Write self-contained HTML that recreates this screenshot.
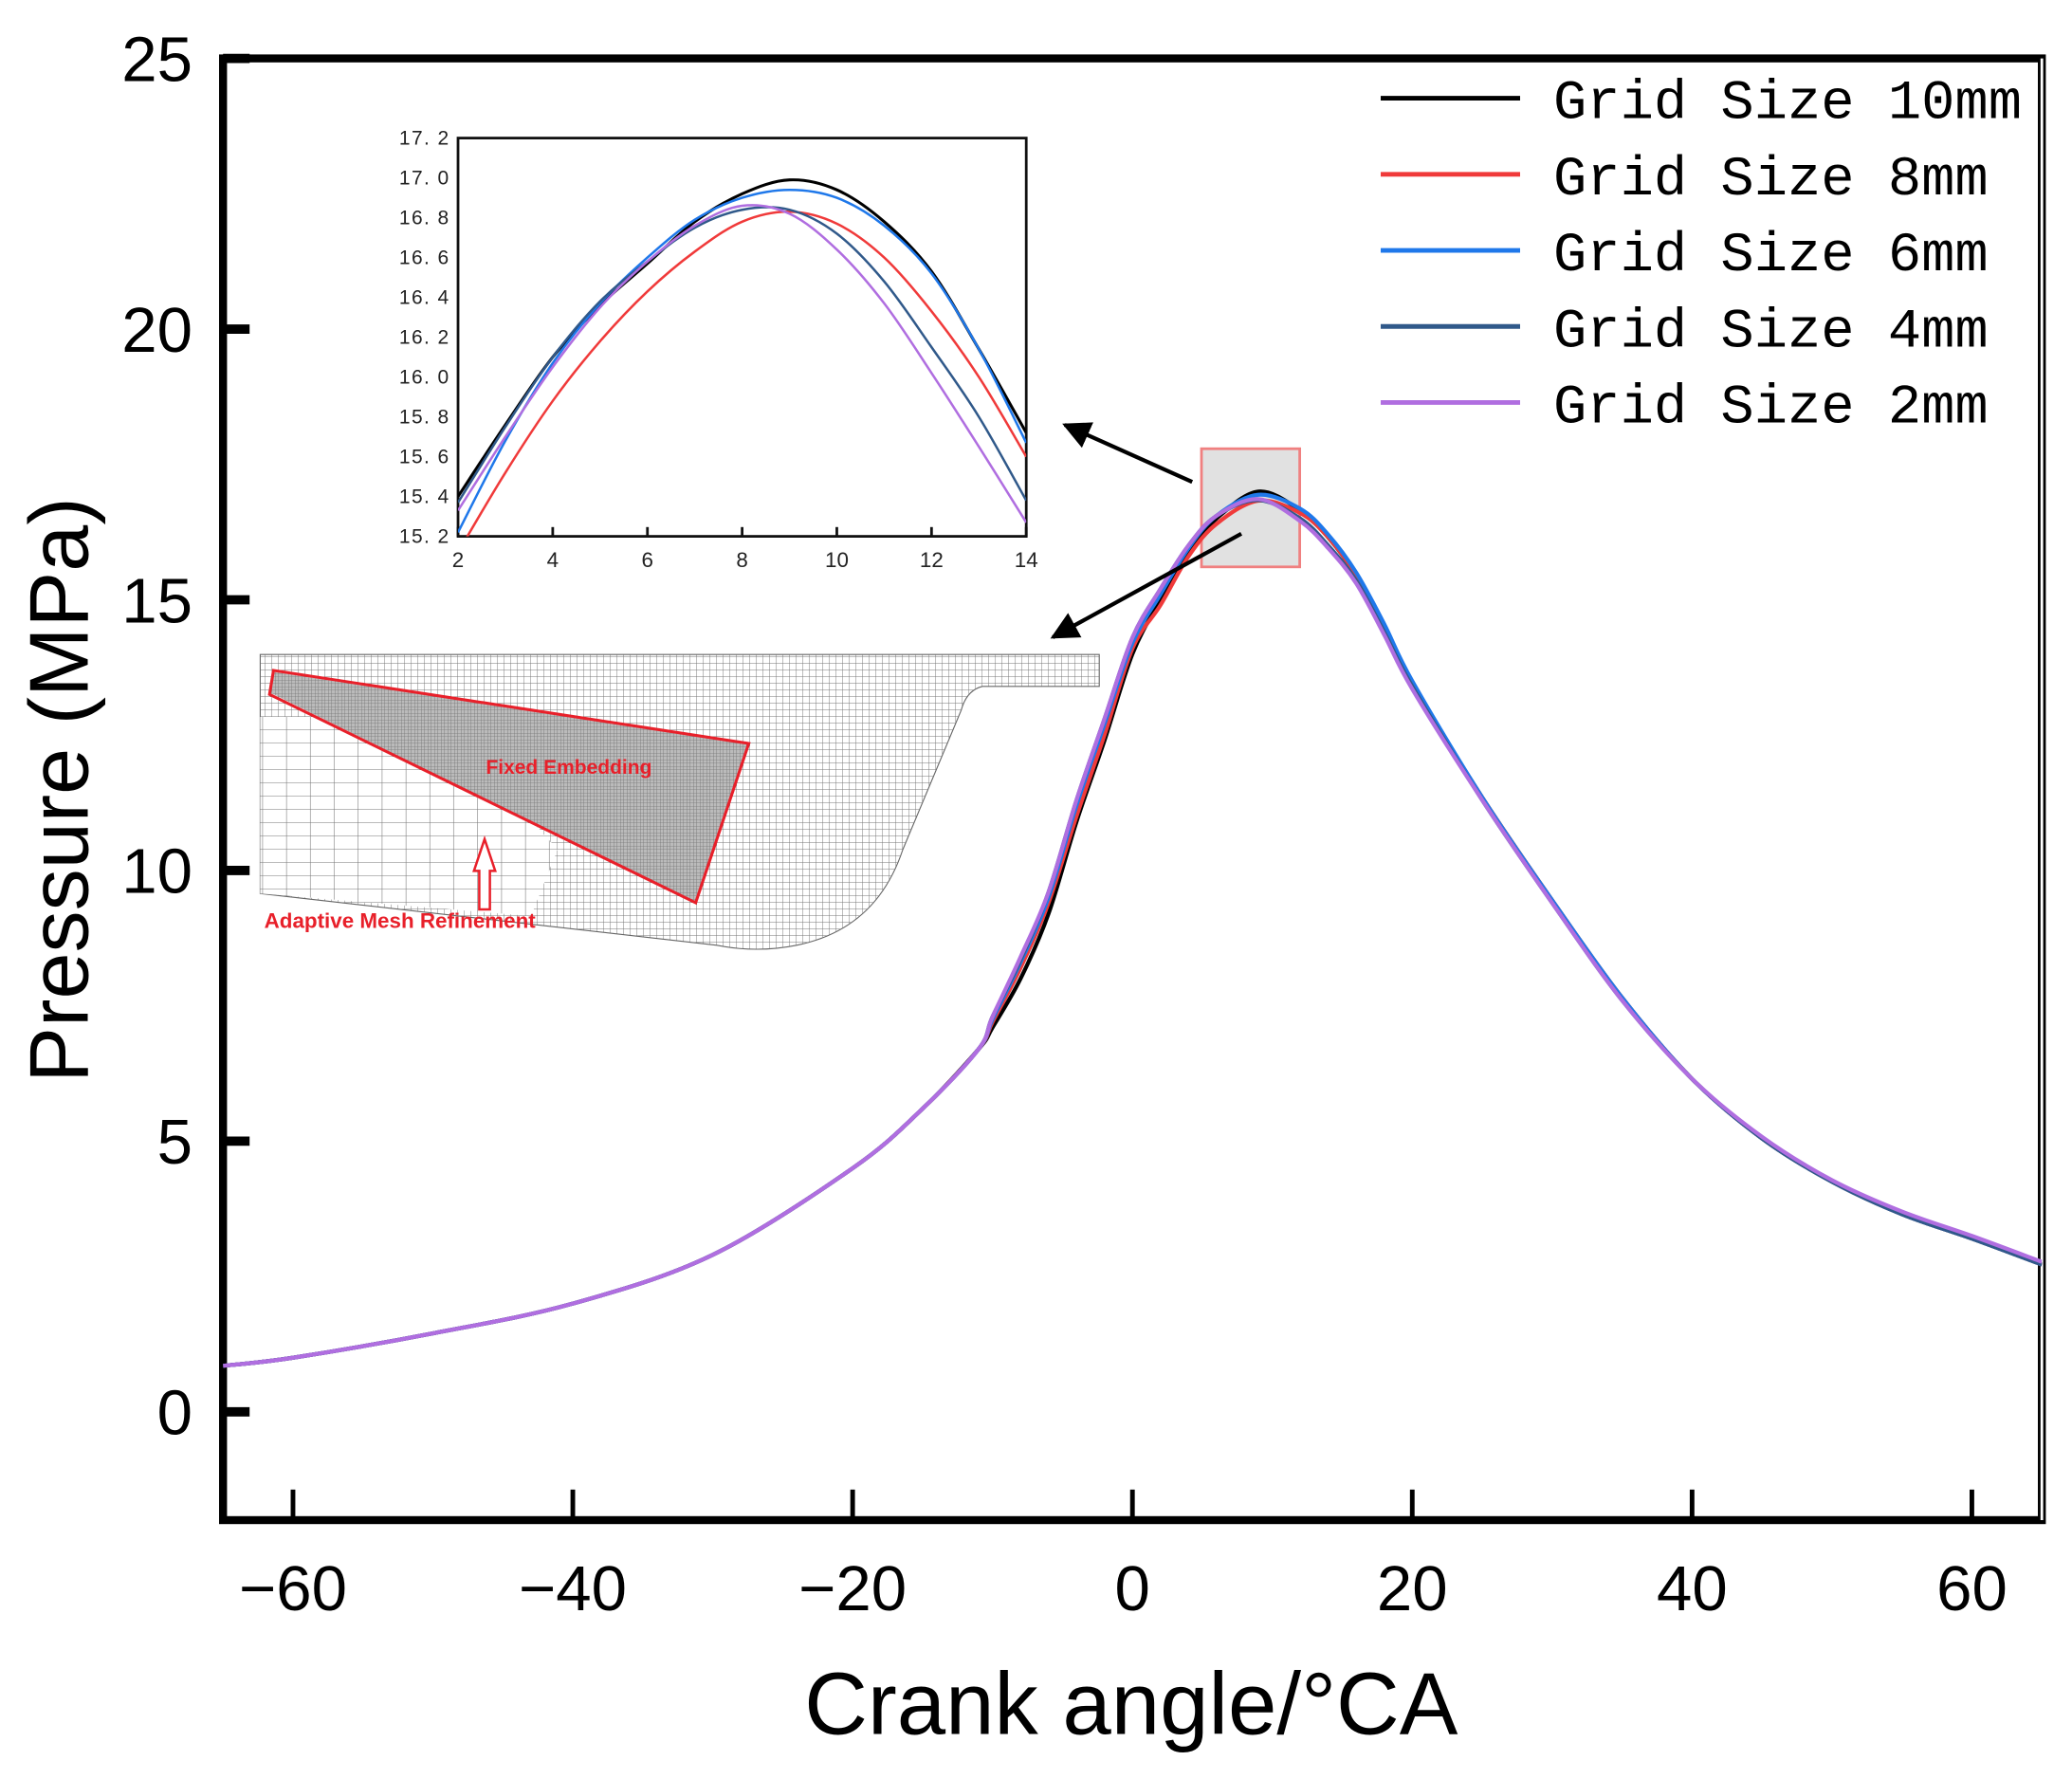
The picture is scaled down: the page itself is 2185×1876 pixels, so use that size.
<!DOCTYPE html>
<html><head><meta charset="utf-8">
<style>
html,body{margin:0;padding:0;background:#fff;}
svg{display:block;}
text{font-family:"Liberation Sans Narrow","Liberation Sans",sans-serif;}
</style></head>
<body>
<svg id="chart" xmlns="http://www.w3.org/2000/svg" width="2185" height="1876" viewBox="0 0 1560.7 1340">
<defs>
  <pattern id="gridFine" width="5" height="5" patternUnits="userSpaceOnUse">
    <rect width="5" height="5" fill="#fff"/>
    <path d="M5 0V5M0 5H5" stroke="#777" stroke-width="0.7" fill="none"/>
  </pattern>
  <pattern id="gridDense" width="2.5" height="2.5" patternUnits="userSpaceOnUse">
    <rect width="2.5" height="2.5" fill="#bbb"/>
    <path d="M2.5 0V2.5M0 2.5H2.5" stroke="#777" stroke-width="0.6" fill="none"/>
  </pattern>
  <pattern id="gridCoarse" width="18" height="10" patternUnits="userSpaceOnUse">
    <rect width="18" height="10" fill="#fff"/>
    <path d="M18 0V10M0 10H18" stroke="#777" stroke-width="0.8" fill="none"/>
  </pattern>
  <clipPath id="plotClip"><rect x="168" y="44" width="1370" height="1101"/></clipPath>
  <clipPath id="insetClip"><rect x="345" y="104" width="428" height="300"/></clipPath>
  <marker id="arrowHead" viewBox="0 0 10 10" refX="9" refY="5" markerWidth="7" markerHeight="7" orient="auto">
    <path d="M0 0L10 5L0 10z" fill="#000"/>
  </marker>
</defs>
<g id="axes-layer"></g>
<g id="mesh-figure">
  <path d="M196 493H828V517H740Q728 520 724 535L680 640Q660 700 600 712Q570 718 540 712L196 673Z" fill="url(#gridFine)" stroke="#666" stroke-width="0.8"/>
  <path d="M196 540H330L420 640L400 690L196 673Z" fill="url(#gridCoarse)"/>
  <path d="M205 506L564 560L524 680L204 522Z" fill="url(#gridDense)"/>
  <path d="M206 505L564 560L524 680L203 523Z" fill="none" stroke="#e8202a" stroke-width="2.2"/>
  <text x="366" y="583" font-size="15" font-weight="bold" fill="#e8202a">Fixed Embedding</text>
  <path d="M361 685V656H357L365 632L373 656H369V685Z" fill="#fff" stroke="#e8202a" stroke-width="1.8"/>
  <text x="199" y="699" font-size="16" font-weight="bold" fill="#e8202a">Adaptive Mesh Refinement</text>
</g>
<rect x="905" y="338" width="74" height="89" fill="#dcdcdc" fill-opacity="0.85" stroke="#f08080" stroke-width="2"/>
<g id="series-layer" clip-path="url(#plotClip)"></g>
<line x1="898" y1="363" x2="802" y2="320" stroke="#000" stroke-width="3" marker-end="url(#arrowHead)"/>
<line x1="935" y1="402" x2="793" y2="480" stroke="#000" stroke-width="3" marker-end="url(#arrowHead)"/>
<g id="inset-layer"></g>
<g id="legend-layer"></g>
</svg>
<script>
const NS='http://www.w3.org/2000/svg';
// ---- main chart data ----
const xTicks=[-60,-40,-20,0,20,40,60];
const yTicks=[0,5,10,15,20,25];
const angles=[-65,-60,-50,-40,-30,-20,-15,-11,-10,-8,-6,-4,-2,0,2,4,6,9,12,14,16,18,20,25,30,35,40,45,50,55,60,65];
const p10mm=[0.85,1.0,1.45,2.0,2.9,4.5,5.6,6.7,7.1,8.0,9.2,10.9,12.4,14.0,15.0,15.9,16.5,17.0,16.65,16.15,15.45,14.5,13.45,11.35,9.45,7.65,6.15,5.05,4.25,3.65,3.2,2.72];
const p8mm =[0.85,1.0,1.45,2.0,2.9,4.5,5.6,6.7,7.2,8.2,9.4,11.0,12.5,14.1,14.9,15.8,16.4,16.83,16.6,16.15,15.45,14.5,13.45,11.35,9.45,7.65,6.15,5.05,4.25,3.65,3.2,2.72];
const p6mm =[0.85,1.0,1.45,2.0,2.9,4.5,5.6,6.7,7.25,8.3,9.5,11.2,12.7,14.2,15.1,15.95,16.55,16.94,16.68,16.2,15.5,14.55,13.5,11.35,9.45,7.65,6.15,5.05,4.25,3.65,3.2,2.72];
const p4mm =[0.85,1.0,1.45,2.0,2.9,4.5,5.6,6.7,7.3,8.35,9.6,11.3,12.8,14.3,15.2,16.0,16.55,16.84,16.5,16.0,15.35,14.4,13.4,11.3,9.4,7.6,6.15,5.05,4.25,3.65,3.2,2.72];
const p2mm =[0.85,1.0,1.45,2.0,2.9,4.5,5.6,6.7,7.3,8.4,9.6,11.3,12.8,14.3,15.2,16.0,16.55,16.86,16.45,15.95,15.3,14.35,13.35,11.3,9.4,7.6,6.15,5.08,4.28,3.7,3.25,2.77];
// ---- inset data ----
const insetX=[2,3,4,5,6,7,8,9,10,11,12,13,14];
const insetXTicks=[2,4,6,8,10,12,14];
const insetYTicks=[15.2,15.4,15.6,15.8,16.0,16.2,16.4,16.6,16.8,17.0,17.2];
const i10mm=[15.40,15.76,16.10,16.36,16.57,16.78,16.92,16.99,16.94,16.78,16.53,16.14,15.72];
const i8mm =[15.12,15.52,15.88,16.18,16.43,16.63,16.78,16.83,16.77,16.60,16.33,16.00,15.60];
const i6mm =[15.22,15.68,16.07,16.37,16.60,16.79,16.90,16.94,16.90,16.76,16.52,16.14,15.67];
const i4mm =[15.37,15.75,16.10,16.38,16.58,16.75,16.84,16.84,16.72,16.48,16.15,15.80,15.38];
const i2mm =[15.33,15.70,16.05,16.35,16.58,16.76,16.86,16.82,16.64,16.37,16.02,15.65,15.27];
const seriesNames=['Grid Size 10mm','Grid Size 8mm','Grid Size 6mm','Grid Size 4mm','Grid Size 2mm'];
const seriesColors=['#000000','#f03a3a','#1f78ea','#30598a','#b06ee0'];

const mainSeries=[p10mm,p8mm,p6mm,p4mm,p2mm];
const insetSeries=[i10mm,i8mm,i6mm,i4mm,i2mm];

const X0=168,X1=1538,Y0=44,Y1=1145;
const xs=v=>X0+(v+65)/130*(X1-X0);
const ys=v=>Y1-(v+2)/27*(Y1-Y0);
const IX0=345,IX1=773,IY0=104,IY1=404;
const ixs=v=>IX0+(v-2)/12*(IX1-IX0);
const iys=v=>IY1-(v-15.2)/2*(IY1-IY0);

function mk(tag,attrs,parent){const e=document.createElementNS(NS,tag);for(const k in attrs)e.setAttribute(k,attrs[k]);parent.appendChild(e);return e;}
function smooth(pts){
  let d='M'+pts[0][0].toFixed(2)+' '+pts[0][1].toFixed(2);
  for(let i=0;i<pts.length-1;i++){
    const p0=pts[Math.max(0,i-1)],p1=pts[i],p2=pts[i+1],p3=pts[Math.min(pts.length-1,i+2)];
    const c1=[p1[0]+(p2[0]-p0[0])/6,p1[1]+(p2[1]-p0[1])/6];
    const c2=[p2[0]-(p3[0]-p1[0])/6,p2[1]-(p3[1]-p1[1])/6];
    d+='C'+c1.map(n=>n.toFixed(2)).join(' ')+' '+c2.map(n=>n.toFixed(2)).join(' ')+' '+p2[0].toFixed(2)+' '+p2[1].toFixed(2);
  }
  return d;
}
const ax=document.getElementById('axes-layer');
let e;
e=mk('rect',{x:X0,y:Y0,width:X1-X0,height:Y1-Y0,fill:'none',stroke:'#000','stroke-width':6},ax);


e=mk('line',{x1:X1,y1:Y0,x2:X1,y2:Y1,stroke:'#fff','stroke-width':2},ax);


yTicks.forEach(v=>{
  const t=mk('line',{x1:X0,y1:ys(v),x2:X0+20,y2:ys(v),stroke:'#000','stroke-width':7},ax);
  
  
  const l=mk('text',{x:145,y:ys(v)+17,'font-size':48,'text-anchor':'end',fill:'#000'},ax);
  l.textContent=v;
  
  
});
xTicks.forEach(v=>{
  const t=mk('line',{x1:xs(v),y1:Y1,x2:xs(v),y2:Y1-23,stroke:'#000','stroke-width':3.5},ax);
  
  
  const l=mk('text',{x:xs(v),y:1213,'font-size':48,'text-anchor':'middle',fill:'#000'},ax);
  l.textContent=v<0?'\u2212'+(-v):v;
  
  
});
e=mk('text',{x:852,y:1306,'font-size':66,'text-anchor':'middle',fill:'#000'},ax);
e.textContent='Crank angle/\u00b0CA';


e=mk('text',{x:0,y:0,'font-size':63,'text-anchor':'middle',fill:'#000',transform:'translate(66,595) rotate(-90)'},ax);
e.textContent='Pressure (MPa)';



const sl=document.getElementById('series-layer');
mainSeries.forEach((arr,i)=>{
  const p=mk('path',{d:smooth(angles.map((a,j)=>[xs(a),ys(arr[j])])),fill:'none',stroke:seriesColors[i],'stroke-width':3},sl);
  
  
});

const il=document.getElementById('inset-layer');
e=mk('rect',{x:IX0,y:IY0,width:IX1-IX0,height:IY1-IY0,fill:'#fff',stroke:'#111','stroke-width':2},il);


insetYTicks.forEach(v=>{
  const l=mk('text',{x:339,y:iys(v)+5,'font-size':15,'text-anchor':'end',fill:'#222','letter-spacing':'1'},il);
  l.textContent=v.toFixed(1).replace('.','. ');
  
  
});
insetXTicks.forEach(v=>{
  const t=mk('line',{x1:ixs(v),y1:IY1,x2:ixs(v),y2:IY1-7,stroke:'#111','stroke-width':2},il);
  
  
  const l=mk('text',{x:ixs(v),y:427,'font-size':16,'text-anchor':'middle',fill:'#222'},il);
  l.textContent=v;
  
  
});
const ig=mk('g',{'clip-path':'url(#insetClip)'},il);
insetSeries.forEach((arr,i)=>{
  const p=mk('path',{d:smooth(insetX.map((a,j)=>[ixs(a),iys(arr[j])])),fill:'none',stroke:seriesColors[i],'stroke-width':i===0?2.2:1.8},ig);
  
  
});

const ll=document.getElementById('legend-layer');
seriesNames.forEach((n,i)=>{
  const y=74+i*57.3;
  const g=mk('g',{},ll);
  
  
  mk('line',{x1:1040,y1:y,x2:1145,y2:y,stroke:seriesColors[i],'stroke-width':3.5},g);
  const t=mk('text',{x:1170,y:y+15,'font-size':42,fill:'#000',style:'font-family:"Liberation Mono",monospace'},g);
  t.textContent=n;
});
</script>
</body></html>
